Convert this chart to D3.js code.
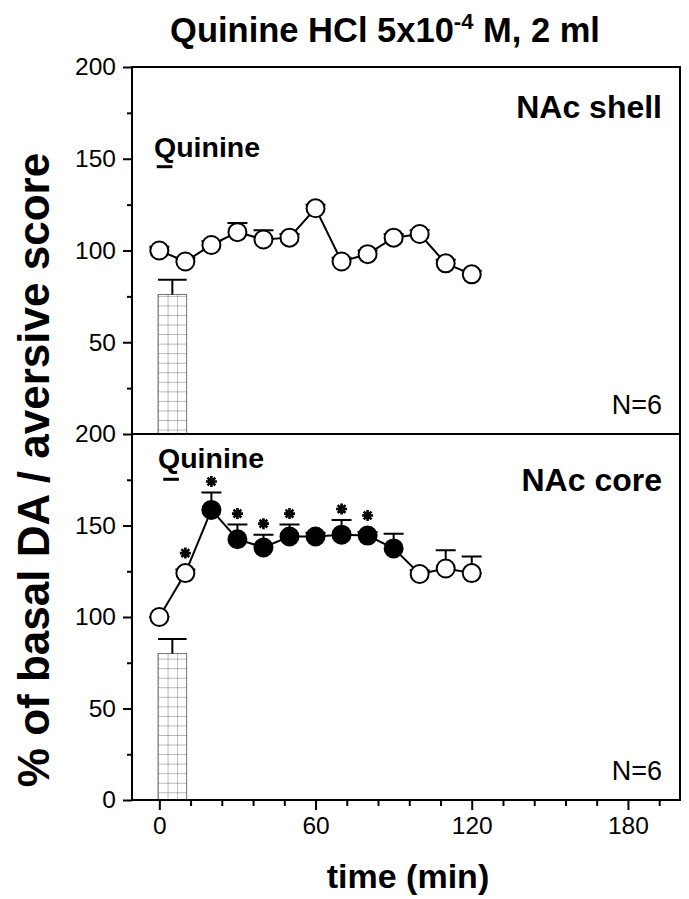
<!DOCTYPE html>
<html>
<head>
<meta charset="utf-8">
<script src="https://cdn.jsdelivr.net/npm/d3@7"></script>
<style>
  body { margin: 0; background: #fff; }
  svg { display: block; }
  text { font-family: "Liberation Sans", Arial, sans-serif; fill: #000; }
</style>
</head>
<body>
<svg id="chart"></svg>
<script>
// sampling times (min)
const times = [0, 10, 20, 30, 40, 50, 60, 70, 80, 90, 100, 110, 120];

// NAc shell
const shellMean = [100, 94, 103, 110, 106, 107, 123, 94, 98, 107, 109, 93, 87];
const shellSem  = [2, 2, 2, 5, 5, 2, 2, 2, 2, 2, 2, 2, 2];
const shellFilled = [0, 0, 0, 0, 0, 0, 0, 0, 0, 0, 0, 0, 0];
const shellSig    = [0, 0, 0, 0, 0, 0, 0, 0, 0, 0, 0, 0, 0];

// NAc core
const coreMean = [100, 124, 158.5, 142.5, 138, 144, 144, 145, 144.5, 137.5, 123.5, 126.5, 124];
const coreSem  = [0, 2, 9.5, 8, 7, 6.5, 2, 8, 2, 8, 2, 10, 9];
const coreFilled = [0, 0, 1, 1, 1, 1, 1, 1, 1, 1, 0, 0, 0];
const coreSig    = [0, 1, 1, 1, 1, 1, 0, 1, 1, 0, 0, 0, 0];

// aversive score bars (shell, core)
const barValue = [76, 80];
const barSem   = [8, 8];
const barSpan  = [-0.5, 10.5];

// quinine infusion marks (min)
const quinineSpan = [[-1, 5], [1.5, 7.5]];

const yMajor = [0, 50, 100, 150, 200];
const yMinor = [25, 75, 125, 175];
const xMajor = [0, 60, 120, 180];
const xMinor = [12, 24, 36, 48, 72, 84, 96, 108, 132, 144, 156, 168, 192];

const W = 689, H = 899;
const pLeft = 132, pRight = 680, pTop = 67, pMid = 434, pBottom = 800;

const svg = d3.select('#chart').attr('width', W).attr('height', H);

const x = d3.scaleLinear().domain([-10.5, 200]).range([pLeft, pRight]);
const yTop = d3.scaleLinear().domain([0, 200]).range([pMid, pTop]);
const yBot = d3.scaleLinear().domain([0, 200]).range([pBottom, pMid]);

// grid hatch for the bars
const cell = (x(barSpan[1]) - x(barSpan[0])) / 3;
const defs = svg.append('defs');
const pat = defs.append('pattern')
  .attr('id', 'grid')
  .attr('patternUnits', 'userSpaceOnUse')
  .attr('x', x(barSpan[0])).attr('y', 0)
  .attr('width', cell).attr('height', cell);
pat.append('rect').attr('width', cell).attr('height', cell).attr('fill', '#fff');
pat.append('path')
  .attr('d', `M0,0H${cell}M0,0V${cell}`)
  .attr('stroke', '#666').attr('stroke-width', 0.9).attr('fill', 'none');

// 8-armed asterisk
const astPath = d3.range(4).map(k => {
  const a = k * Math.PI / 4, r = 5.5;
  return `M${-r * Math.cos(a)},${-r * Math.sin(a)}L${r * Math.cos(a)},${r * Math.sin(a)}`;
}).join('');

function panel(y, mean, sem, filled, sig, bi, qi, name, showZero) {
  const g = svg.append('g');

  // aversive bar
  const bx0 = x(barSpan[0]), bx1 = x(barSpan[1]), bxc = (bx0 + bx1) / 2;
  g.append('rect')
    .attr('x', bx0).attr('y', y(barValue[bi]))
    .attr('width', bx1 - bx0).attr('height', y(0) - y(barValue[bi]))
    .attr('fill', 'url(#grid)').attr('stroke', '#666').attr('stroke-width', 0.9);
  g.append('path')
    .attr('d', `M${bxc},${y(barValue[bi])}V${y(barValue[bi] + barSem[bi])}M${bx0},${y(barValue[bi] + barSem[bi])}H${bx1}`)
    .attr('stroke', '#000').attr('stroke-width', 2).attr('fill', 'none');

  // axis ticks
  const ax = g.append('g').attr('transform', `translate(${pLeft},0)`)
    .call(d3.axisLeft(y).tickValues(showZero ? yMajor : yMajor.slice(1)).tickSize(9).tickPadding(7));
  ax.select('.domain').remove();
  ax.selectAll('line').attr('stroke-width', 2);
  ax.selectAll('text').style('font-size', '24.5px').attr('font-family', null);
  const axm = g.append('g').attr('transform', `translate(${pLeft},0)`)
    .call(d3.axisLeft(y).tickValues(yMinor).tickSize(5).tickFormat(''));
  axm.select('.domain').remove();
  axm.selectAll('line').attr('stroke-width', 2);

  const pts = times.map((t, i) => ({ t, m: mean[i], s: sem[i], f: filled[i], sig: sig[i] }));

  // error bars
  g.selectAll('.err').data(pts).join('path')
    .attr('d', d => `M${x(d.t)},${y(d.m)}V${y(d.m + d.s)}M${x(d.t) - 10},${y(d.m + d.s)}H${x(d.t) + 10}`)
    .attr('stroke', '#000').attr('stroke-width', 2).attr('fill', 'none');

  // line
  g.append('path').datum(pts)
    .attr('d', d3.line().x(d => x(d.t)).y(d => y(d.m)))
    .attr('stroke', '#000').attr('stroke-width', 2).attr('fill', 'none');

  // markers
  g.selectAll('circle').data(pts).join('circle')
    .attr('cx', d => x(d.t)).attr('cy', d => y(d.m)).attr('r', 9)
    .attr('fill', d => d.f ? '#000' : '#fff')
    .attr('stroke', '#000').attr('stroke-width', 2);

  // asterisks
  g.selectAll('.ast').data(pts.filter(d => d.sig)).join('path')
    .attr('transform', d => `translate(${x(d.t)},${Math.min(y(d.m + d.s), y(d.m) - 9) - 11})`)
    .attr('d', astPath)
    .attr('stroke', '#000').attr('stroke-width', 2.6).attr('fill', 'none');

  // quinine mark
  g.append('line')
    .attr('x1', x(quinineSpan[qi][0])).attr('x2', x(quinineSpan[qi][1]))
    .attr('y1', qi === 0 ? 166.7 : 479.3).attr('y2', qi === 0 ? 166.7 : 479.3)
    .attr('stroke', '#000').attr('stroke-width', 3);
  g.append('text')
    .attr('x', qi === 0 ? 154 : 158).attr('y', qi === 0 ? 156.7 : 468.3)
    .style('font-size', '28.5px').style('font-weight', 'bold')
    .text('Quinine');

  // panel name and N
  g.append('text')
    .attr('x', 662).attr('y', qi === 0 ? 118 : 491)
    .attr('text-anchor', 'end')
    .style('font-size', '32px').style('font-weight', 'bold')
    .text(name);
  g.append('text')
    .attr('x', 662).attr('y', y(0) - 20)
    .attr('text-anchor', 'end')
    .style('font-size', '27px')
    .text('N=6');
}

panel(yTop, shellMean, shellSem, shellFilled, shellSig, 0, 0, 'NAc shell', false);
panel(yBot, coreMean, coreSem, coreFilled, coreSig, 1, 1, 'NAc core', true);

// frame
svg.append('rect')
  .attr('x', pLeft).attr('y', pTop).attr('width', pRight - pLeft).attr('height', pBottom - pTop)
  .attr('fill', 'none').attr('stroke', '#000').attr('stroke-width', 2);
svg.append('line')
  .attr('x1', pLeft).attr('x2', pRight).attr('y1', pMid).attr('y2', pMid)
  .attr('stroke', '#000').attr('stroke-width', 2);

// x axis
const xa = svg.append('g').attr('transform', `translate(0,${pBottom})`)
  .call(d3.axisBottom(x).tickValues(xMajor).tickSize(10).tickPadding(7));
xa.select('.domain').remove();
xa.selectAll('line').attr('stroke-width', 2);
xa.selectAll('text').style('font-size', '24.5px').attr('font-family', null);
const xm = svg.append('g').attr('transform', `translate(0,${pBottom})`)
  .call(d3.axisBottom(x).tickValues(xMinor).tickSize(6).tickFormat(''));
xm.select('.domain').remove();
xm.selectAll('line').attr('stroke-width', 2);

// titles
const title = svg.append('text')
  .attr('x', 385).attr('y', 42).attr('text-anchor', 'middle')
  .style('font-size', '34.5px').style('font-weight', 'bold');
title.append('tspan').text('Quinine HCl 5x10');
title.append('tspan').attr('dy', -13).style('font-size', '22px').text('-4');
title.append('tspan').attr('dy', 13).text(' M, 2 ml');

svg.append('text')
  .attr('x', 408).attr('y', 888).attr('text-anchor', 'middle')
  .style('font-size', '34px').style('font-weight', 'bold')
  .text('time (min)');

svg.append('text')
  .attr('transform', 'translate(49,470) rotate(-90)')
  .attr('text-anchor', 'middle')
  .style('font-size', '44px').style('font-weight', 'bold')
  .text('% of basal DA / aversive score');
</script>
</body>
</html>
